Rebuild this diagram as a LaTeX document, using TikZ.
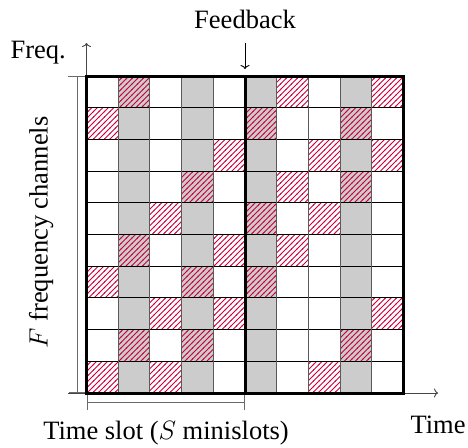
\RequirePackage{fix-cm}
\documentclass[tikz,border=0pt]{standalone}
\usepackage{fontspec}
\setmainfont{Liberation Serif}
\usetikzlibrary{patterns.meta,arrows.meta}
\definecolor{hatchred}{RGB}{204,0,60}
\definecolor{cellgray}{RGB}{204,204,204}
\definecolor{axisgray}{RGB}{70,70,70}
\definecolor{dimgray}{RGB}{105,105,105}
\definecolor{vlinegray}{RGB}{90,90,90}
\tikzdeclarepattern{
  name=hatchlines,
  type=uncolored,
  bottom left={(-0.6pt,-0.6pt)},
  top right={(6.1pt,6.1pt)},
  tile size={(5.5pt,5.5pt)},
  code={\draw[line width=0.75pt] (-0.6pt,-0.6pt) -- (6.1pt,6.1pt);}
}
\tikzset{
  lbl/.style={inner sep=0pt, font=\fontsize{26.5}{32}\selectfont},
  cellfill/.style={fill=cellgray},
  hatchcell/.style={pattern=hatchlines, pattern color=hatchred},
  thinh/.style={line width=1pt, black},
  thinv/.style={line width=1pt, vlinegray},
  border/.style={line width=3pt, black},
  axis/.style={line width=0.9pt, axisgray, -{To[length=4pt,width=9pt]}},
  dimline/.style={line width=0.9pt, dimgray, {Bar[width=16pt]}-{Bar[width=16pt]}},
  fbarrow/.style={line width=0.9pt, black, -{To[length=4pt,width=9pt]}}
}
\begin{document}
\begin{tikzpicture}[x=1pt,y=-1pt]
\useasboundingbox (0,0) rectangle (468,447);
% grid
\begin{scope}[shift={(86.5,76)},x=31.7pt,y=-31.7pt]
  \foreach \c in {2,4,6,9} \fill[cellfill] (\c-1,0) rectangle (\c,10);
  \foreach \c/\r in {2/1,1/2,5/3,4/4,3/5,2/6,5/6,1/7,4/7,3/8,5/8,2/9,4/9,1/10,3/10,
                     7/1,10/1,6/2,9/2,8/3,10/3,7/4,9/4,6/5,8/5,7/6,6/7,10/8,9/9,8/10}
    \fill[hatchcell] (\c-1,\r-1) rectangle (\c,\r);
  \foreach \i in {1,...,9} \draw[thinh] (0,\i) -- (10,\i);
  \foreach \i in {1,2,3,4,6,7,8,9} \draw[thinv] (\i,0) -- (\i,10);
  \coordinate (gridTL) at (0,0);
  \coordinate (gridBL) at (0,10);
  \coordinate (gridTR) at (10,0);
  \coordinate (gridBR) at (10,10);
  \coordinate (slotTop) at (5,0);
  \coordinate (slotBot) at (5,10);
\end{scope}
% axes and dimension lines
\coordinate (timeStart) at (68,393);
\coordinate (timeEnd) at (438,393);
\coordinate (freqEnd) at (86.5,43);
\coordinate (tickL) at (68,76);
\coordinate (fTop) at (77,76);
\coordinate (fBot) at (77,393);
\coordinate (slotL) at (86.5,402);
\coordinate (slotR) at (245,402);
\coordinate (fbStart) at (245,43);
\coordinate (fbEnd) at (245,69);
\draw[axis] (timeStart) -- (timeEnd);
\draw[axis] (gridBL) -- (freqEnd);
\draw[line width=0.9pt, dimgray] (tickL) -- (gridTL);
\draw[dimline] (fTop) -- (fBot);
\draw[dimline] (slotL) -- (slotR);
\draw[fbarrow] (fbStart) -- (fbEnd);
% borders
\draw[border] (gridTL) rectangle (gridBR);
\draw[border] (slotTop) -- (slotBot);
% labels
\node[lbl, anchor=base] (feedback) at (245,28) {Feedback};
\node[lbl, anchor=base east] (freq) at (66,58) {Freq.};
\node[lbl, anchor=base] (time) at (438,433) {Time};
\node[lbl, anchor=base] (slot) at (166,439) {Time slot ($S$\ minislots)};
\node[lbl, anchor=base, rotate=90] (chan) at (47.5,232.5) {$F$ frequency channels};
\end{tikzpicture}
\end{document}
